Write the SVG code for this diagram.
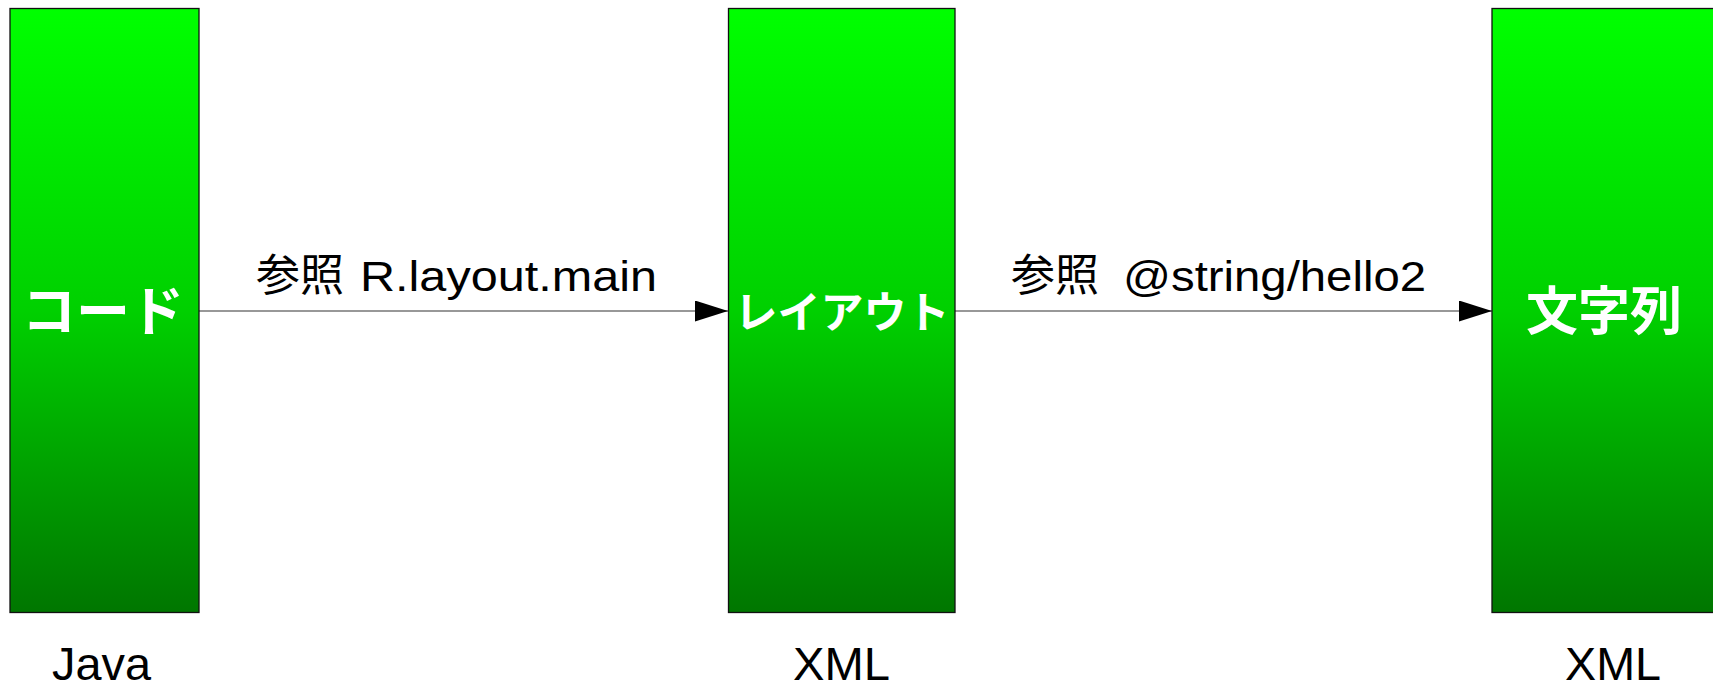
<svg xmlns="http://www.w3.org/2000/svg" width="1713" height="687" viewBox="0 0 1713 687">
<defs>
<linearGradient id="g" x1="0" y1="0" x2="0" y2="1">
<stop offset="0" stop-color="#00ff00"/>
<stop offset="0.5" stop-color="#00d000"/>
<stop offset="1" stop-color="#007600"/>
</linearGradient>
<marker id="arr" markerUnits="userSpaceOnUse" markerWidth="34" markerHeight="22" refX="33" refY="10.5" orient="auto">
<path d="M0,0 L33,10.5 L0,21 z" fill="#000"/>
</marker>
<style>
.box{fill:url(#g);stroke:#111;stroke-width:1.3}
.nl{font-family:"Noto Sans CJK JP","Liberation Sans",sans-serif;font-weight:bold;fill:#fff;text-anchor:middle}
.lbl{font-family:"Liberation Sans","Noto Sans CJK JP",sans-serif;font-size:46px;fill:#000}
.el{font-family:"Liberation Sans","Noto Sans CJK JP",sans-serif;font-size:44px;fill:#000}
.lat{font-size:42px}
.cn{stroke:#333;stroke-width:1.2;fill:none}
</style>
</defs>
<rect width="1713" height="687" fill="#fff"/>
<g id="connectors">
<line class="cn" x1="199" y1="311" x2="728" y2="311" marker-end="url(#arr)"/>
<line class="cn" x1="955" y1="311" x2="1492" y2="311" marker-end="url(#arr)"/>
<text class="el" x="256" y="291">参照 <tspan class="lat" x="360" textLength="297" lengthAdjust="spacingAndGlyphs">R.layout.main</tspan></text>
<text class="el" x="1011" y="291">参照 <tspan class="lat" x="1123" textLength="303" lengthAdjust="spacingAndGlyphs">@string/hello2</tspan></text>
</g>
<g id="node-code">
<rect class="box" x="10" y="8.5" width="189" height="604"/>
<text class="nl" x="103" y="331" font-size="54">コード</text>
<text class="lbl" x="52" y="680" textLength="99" lengthAdjust="spacingAndGlyphs">Java</text>
</g>
<g id="node-layout">
<rect class="box" x="728.5" y="8.5" width="226.5" height="604"/>
<text class="nl" x="842" y="328" font-size="43">レイアウト</text>
<text class="lbl" x="793" y="680" textLength="97" lengthAdjust="spacingAndGlyphs">XML</text>
</g>
<g id="node-string">
<rect class="box" x="1492" y="8.5" width="260" height="604"/>
<text class="nl" x="1604" y="330" font-size="52">文字列</text>
<text class="lbl" x="1565" y="680" textLength="96" lengthAdjust="spacingAndGlyphs">XML</text>
</g>
</svg>
